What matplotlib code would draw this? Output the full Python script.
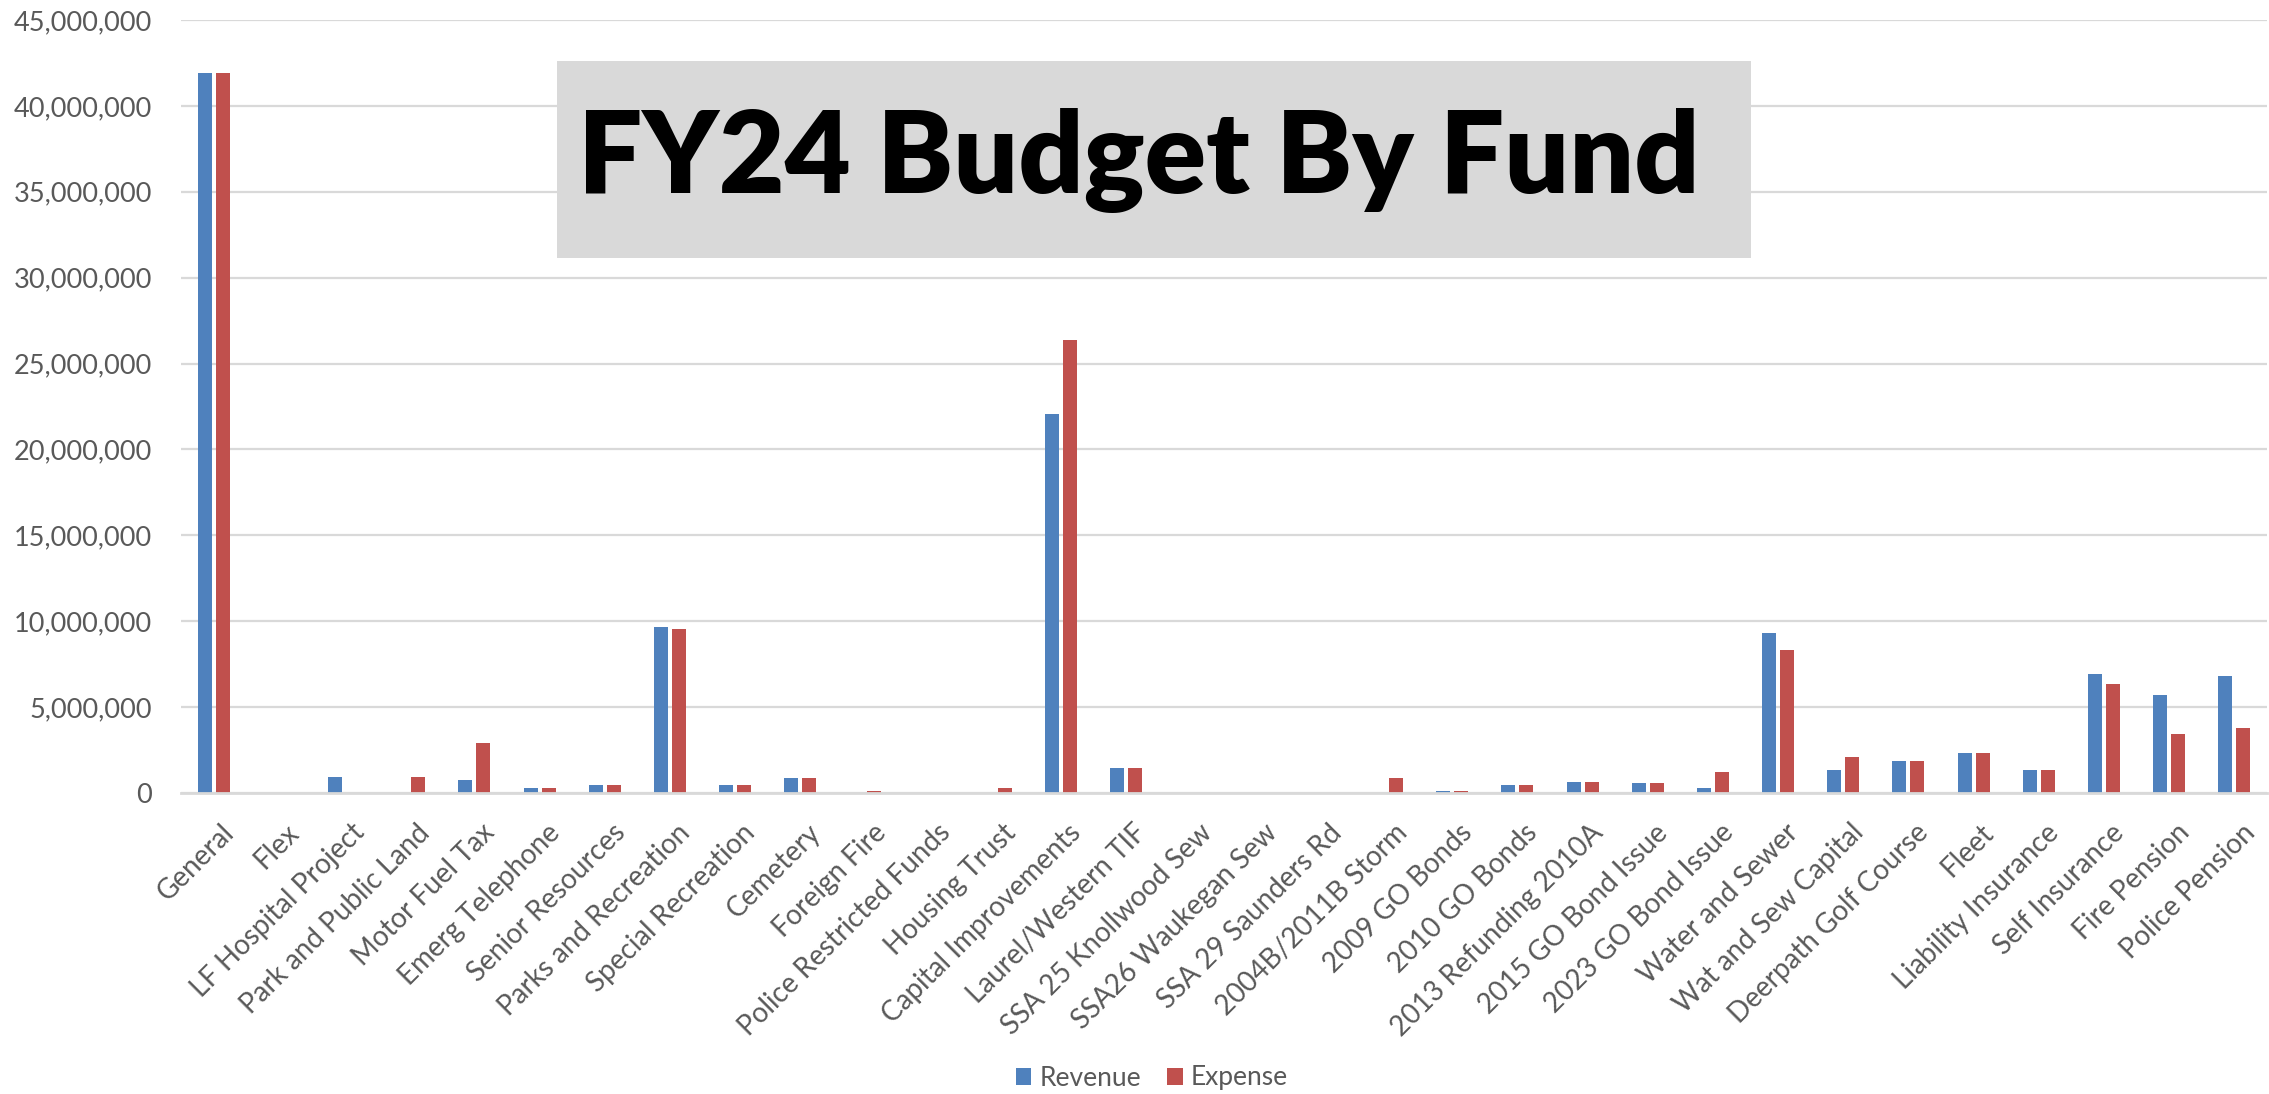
import matplotlib
matplotlib.use("Agg")
import matplotlib.pyplot as plt
import matplotlib.transforms as mtransforms
from matplotlib.patches import Rectangle, Patch
from matplotlib.ticker import FuncFormatter, MultipleLocator
import numpy as np

categories = ["General", "Flex", "LF Hospital Project", "Park and Public Land", "Motor Fuel Tax",
              "Emerg Telephone", "Senior Resources", "Parks and Recreation", "Special Recreation",
              "Cemetery", "Foreign Fire", "Police Restricted Funds", "Housing Trust",
              "Capital Improvements", "Laurel/Western TIF", "SSA 25 Knollwood Sew",
              "SSA26 Waukegan Sew", "SSA 29 Saunders Rd", "2004B/2011B Storm", "2009 GO Bonds",
              "2010 GO Bonds", "2013 Refunding 2010A", "2015 GO Bond Issue", "2023 GO Bond Issue",
              "Water and Sewer", "Wat and Sew Capital", "Deerpath Golf Course", "Fleet",
              "Liability Insurance", "Self Insurance", "Fire Pension", "Police Pension"]

revenue = [41900000, 0, 910000, 0, 760000,
           300000, 490000, 9640000, 490000,
           850000, 0, 0, 0,
           22060000, 1480000, 0,
           0, 0, 0, 140000,
           490000, 660000, 590000, 310000,
           9340000, 1310000, 1840000, 2300000,
           1310000, 6910000, 5720000, 6800000]

expense = [41900000, 0, 0, 910000, 2920000,
           300000, 490000, 9520000, 490000,
           850000, 120000, 0, 300000,
           26380000, 1480000, 0,
           0, 0, 860000, 140000,
           490000, 660000, 590000, 1210000,
           8340000, 2110000, 1840000, 2300000,
           1310000, 6350000, 3460000, 3810000]

series_names = ["Revenue", "Expense"]
title_text = "FY24 Budget By Fund"

BLUE = "#4F81BD"
RED = "#C0504D"
GRID = "#D9D9D9"
TXT = "#595959"
FONT = "Lato"

W, H = 2269, 1094
fig = plt.figure(figsize=(W / 100, H / 100), dpi=100)
ax = fig.add_axes([181 / W, 1 - 793 / H, (2267 - 181) / W, (793 - 20) / H])

x = np.arange(len(categories))
bw = 0.215
off = 0.138
ax.bar(x - off, revenue, width=bw, color=BLUE, zorder=3, label=series_names[0])
ax.bar(x + off, expense, width=bw, color=RED, zorder=3, label=series_names[1])

ax.set_xlim(-0.5, len(categories) - 0.5)
ax.set_ylim(0, 45000000)
ax.yaxis.set_major_locator(MultipleLocator(5000000))
ax.yaxis.set_major_formatter(FuncFormatter(lambda v, p: f"{v:,.0f}"))
ax.grid(axis="y", color=GRID, linewidth=1.6, zorder=0)
ax.set_axisbelow(True)
for s in ["top", "right", "left"]:
    ax.spines[s].set_visible(False)
ax.spines["bottom"].set_color(GRID)
ax.spines["bottom"].set_linewidth(2.0)
ax.spines["bottom"].set_zorder(4)

ax.tick_params(axis="y", length=0, pad=21, labelsize=19.5, labelcolor=TXT)
ax.tick_params(axis="x", length=0, pad=19, labelsize=20, labelcolor=TXT)
for lab in ax.get_yticklabels():
    lab.set_fontfamily(FONT)

ax.set_xticks(x)
ax.set_xticklabels(categories, rotation=45, ha="right", va="top", rotation_mode="anchor",
                   fontfamily=FONT)
shift = mtransforms.ScaledTranslation(7 / 100, 0, fig.dpi_scale_trans)
for lab in ax.get_xticklabels():
    lab.set_transform(lab.get_transform() + shift)

# title box
fig.patches.append(Rectangle((557 / W, 1 - 258 / H), (1751 - 557) / W, (258 - 61) / H,
                             transform=fig.transFigure, facecolor="#D9D9D9",
                             edgecolor="none", zorder=5))
fig.text(1139 / W, 1 - 193 / H, title_text, ha="center", va="baseline",
         fontsize=82, fontweight="heavy", color="black", fontfamily=FONT, zorder=6)

handles = [Patch(facecolor=BLUE), Patch(facecolor=RED)]
fig.legend(handles, series_names, loc="center", bbox_to_anchor=(796 / 1568, 1 - 1078 / H),
           ncol=2, frameon=False, handlelength=0.6, handleheight=0.6, handletextpad=0.3,
           columnspacing=1.0, prop={"family": FONT, "size": 19}, labelcolor=TXT)

fig.savefig("out.png", dpi=100)
